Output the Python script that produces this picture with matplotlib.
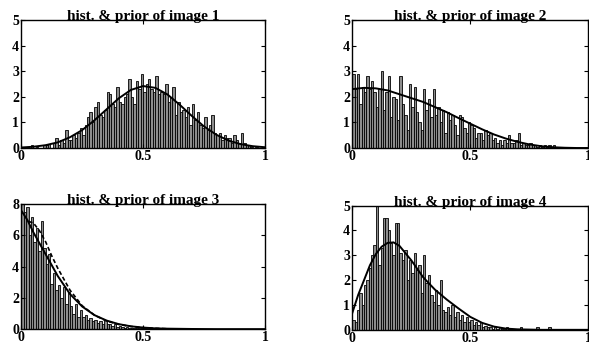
import matplotlib
matplotlib.use("Agg")
import matplotlib.pyplot as plt
import numpy as np

plt.rcParams['font.family'] = ['Liberation Serif', 'DejaVu Serif']

# bin centres: 100 bins of width 0.01 on [0,1]
bins = np.arange(100) * 0.01 + 0.005

hist1 = [0, 0, 0.05, 0, 0.1, 0, 0.05, 0, 0, 0.1,
         0.1, 0.15, 0, 0.2, 0.4, 0.1, 0.3, 0.2, 0.7, 0.3,
         0.3, 0.5, 0.4, 0.6, 0.8, 0.5, 0.9, 1.2, 1.4, 1.0,
         1.6, 1.8, 1.3, 1.2, 1.5, 2.2, 2.1, 1.7, 1.6, 2.4,
         1.8, 1.7, 2.0, 2.1, 2.7, 2.0, 1.7, 2.6, 2.3, 2.9,
         2.2, 2.5, 2.7, 2.3, 2.2, 2.8, 2.1, 2.2, 2.1, 2.5,
         1.8, 2.0, 2.4, 1.3, 1.8, 1.4, 1.5, 1.2, 1.6, 0.9,
         1.7, 1.1, 1.4, 0.9, 0.8, 1.2, 0.7, 0.9, 1.3, 0.6,
         0.5, 0.6, 0.3, 0.5, 0.4, 0.4, 0.2, 0.5, 0.3, 0.2,
         0.6, 0.2, 0.1, 0.1, 0.05, 0, 0.05, 0, 0, 0]
hist2 = [2.9, 2.3, 2.9, 1.7, 2.4, 2.2, 2.8, 2.3, 2.6, 2.2,
         1.6, 2.3, 3.0, 1.5, 2.2, 2.8, 1.2, 2.0, 1.9, 1.1,
         2.8, 1.7, 1.3, 0.7, 2.5, 1.6, 2.4, 1.4, 1.0, 0.7,
         2.3, 1.5, 1.9, 1.2, 2.3, 1.3, 1.6, 1.0, 1.5, 0.6,
         1.4, 1.1, 1.3, 0.9, 0.5, 1.3, 1.2, 0.8, 0.6, 1.0,
         0.9, 0.8, 0.4, 0.6, 0.6, 0.3, 0.7, 0.5, 0.6, 0.3,
         0.4, 0.2, 0.3, 0.1, 0.3, 0.2, 0.5, 0.2, 0.2, 0.3,
         0.6, 0.1, 0.2, 0.1, 0.1, 0.2, 0.1, 0.1, 0.05, 0.1,
         0.05, 0.1, 0.05, 0.1, 0.05, 0.1, 0, 0.05, 0.05, 0,
         0.05, 0, 0, 0, 0, 0, 0, 0, 0, 0]
hist3 = [8.0, 7.5, 7.8, 6.0, 7.2, 5.6, 6.5, 5.0, 6.9, 5.2,
         4.2, 4.8, 2.9, 3.6, 2.5, 2.8, 2.0, 2.7, 1.6, 2.4,
         1.5, 1.0, 1.6, 0.8, 1.2, 0.8, 0.9, 0.6, 0.7, 0.5,
         0.6, 0.4, 0.5, 0.3, 0.6, 0.3, 0.3, 0.2, 0.3, 0.15,
         0.2, 0.15, 0.1, 0.15, 0.1, 0.1, 0.05, 0.1, 0.05, 0.05,
         0.05, 0.05, 0, 0.05, 0, 0.05, 0, 0, 0.05, 0,
         0, 0, 0, 0, 0, 0, 0, 0, 0, 0,
         0, 0, 0, 0, 0, 0, 0, 0, 0, 0,
         0, 0, 0, 0, 0, 0, 0, 0, 0, 0,
         0, 0, 0, 0, 0, 0, 0, 0, 0, 0]
hist4 = [0.4, 0.3, 0.8, 1.5, 1.0, 1.8, 2.0, 2.5, 3.0, 3.4,
         5.0, 2.6, 3.3, 4.5, 4.5, 4.0, 3.5, 3.0, 4.3, 4.3,
         3.1, 2.8, 3.2, 2.0, 2.8, 2.3, 3.1, 2.4, 2.6, 1.5,
         3.0, 1.9, 2.2, 1.4, 1.1, 1.6, 1.0, 2.0, 0.8, 0.7,
         0.9, 0.6, 1.0, 0.5, 0.7, 0.4, 0.6, 0.3, 0.5, 0.3,
         0.4, 0.2, 0.3, 0.2, 0.3, 0.1, 0.15, 0.1, 0.1, 0.05,
         0.1, 0.05, 0.1, 0.05, 0.05, 0.1, 0.05, 0.05, 0.05, 0.05,
         0.05, 0.1, 0, 0.05, 0, 0.05, 0, 0, 0.1, 0,
         0, 0, 0, 0.1, 0, 0, 0, 0, 0, 0,
         0, 0, 0, 0, 0, 0, 0, 0, 0, 0]

# prior curves
px1 = [0, 0.05, 0.1, 0.15, 0.2, 0.25, 0.3, 0.35, 0.4, 0.45, 0.5,
       0.55, 0.6, 0.65, 0.7, 0.75, 0.8, 0.85, 0.9, 0.95, 1.0]
py1 = [0.02, 0.05, 0.11, 0.22, 0.42, 0.70, 1.08, 1.51, 1.94, 2.27, 2.42,
       2.35, 2.09, 1.69, 1.25, 0.84, 0.52, 0.29, 0.15, 0.07, 0.03]
px2 = [0, 0.05, 0.1, 0.15, 0.2, 0.25, 0.3, 0.35, 0.4, 0.45, 0.5,
       0.55, 0.6, 0.65, 0.7, 0.75, 0.8, 0.85, 0.9, 0.95, 1.0]
py2 = [2.3, 2.35, 2.33, 2.25, 2.1, 1.95, 1.8, 1.6, 1.4, 1.17, 0.95,
       0.73, 0.53, 0.37, 0.24, 0.14, 0.07, 0.03, 0.01, 0, 0]
px3 = [0, 0.025, 0.05, 0.075, 0.1, 0.125, 0.15, 0.2, 0.25, 0.3,
       0.35, 0.4, 0.45, 0.5, 0.55, 0.6, 0.7, 0.8, 0.9, 1.0]
py3 = [7.6, 7.0, 6.2, 5.5, 4.8, 4.1, 3.4, 2.25, 1.45, 0.9,
       0.55, 0.32, 0.18, 0.1, 0.05, 0.03, 0.01, 0, 0, 0]
px3b = [0.03, 0.05, 0.075, 0.1, 0.125, 0.15, 0.2, 0.25, 0.3, 0.35,
        0.4, 0.45, 0.5, 0.6, 0.7]
py3b = [6.9, 6.8, 6.3, 5.6, 4.7, 3.9, 2.5, 1.5, 0.9, 0.52,
        0.3, 0.17, 0.09, 0.02, 0]
px4 = [0, 0.025, 0.05, 0.075, 0.1, 0.125, 0.15, 0.175, 0.2, 0.25, 0.3,
       0.35, 0.4, 0.45, 0.5, 0.55, 0.6, 0.65, 0.7, 0.8, 1.0]
py4 = [0.67, 1.4, 2.0, 2.6, 3.05, 3.35, 3.5, 3.52, 3.38, 2.8, 2.12,
       1.62, 1.22, 0.86, 0.52, 0.28, 0.13, 0.05, 0.02, 0, 0]

titles = ['hist. & prior of image 1', 'hist. & prior of image 2',
          'hist. & prior of image 3', 'hist. & prior of image 4']
ymax = [5, 5, 8, 5]
yticks = [[0, 1, 2, 3, 4, 5], [0, 1, 2, 3, 4, 5], [0, 2, 4, 6, 8], [0, 1, 2, 3, 4, 5]]

fig = plt.figure(figsize=(5.89, 3.45), dpi=100)
rects = [[0.036, 0.571, 0.414, 0.371],
         [0.598, 0.571, 0.401, 0.371],
         [0.036, 0.046, 0.414, 0.362],
         [0.598, 0.044, 0.401, 0.360]]
hists = [hist1, hist2, hist3, hist4]
curves = [(px1, py1), (px2, py2), (px3, py3), (px4, py4)]

for i in range(4):
    ax = fig.add_axes(rects[i])
    ax.bar(bins, hists[i], width=0.01, color='0.55', edgecolor='k', linewidth=0.6)
    ax.plot(curves[i][0], curves[i][1], color='k', lw=1.4)
    if i == 2:
        ax.plot(px3b, py3b, color='k', lw=1.2, ls=(0, (2.5, 1.5)))
    ax.set_xlim(0, 1)
    ax.set_ylim(0, ymax[i])
    ax.set_xticks([0, 0.5, 1])
    ax.set_xticklabels(['0', '0.5', '1'])
    ax.set_yticks(yticks[i])
    ax.tick_params(direction='in', top=True, right=True, length=3, width=0.8,
                   labelsize=10, pad=1.5)
    for lab in ax.get_xticklabels() + ax.get_yticklabels():
        lab.set_fontweight('bold')
    for s in ax.spines.values():
        s.set_linewidth(1.0)
    ax.set_title(titles[i], fontsize=11, fontweight='bold', pad=0)

plt.savefig('out.png', dpi=100)
